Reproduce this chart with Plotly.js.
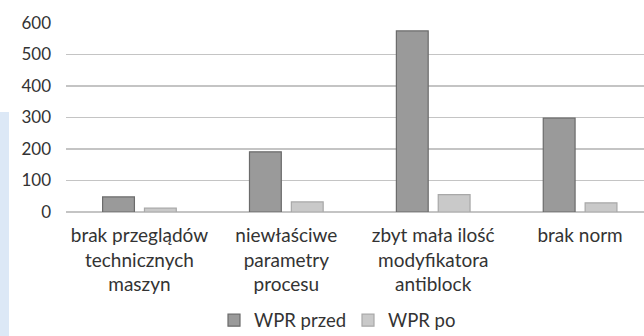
<!DOCTYPE html>
<html>
<head>
<meta charset="utf-8">
<script src="https://cdn.plot.ly/plotly-3.0.1.min.js"></script>
<style>
html,body{margin:0;padding:0;background:#fff;overflow:hidden;}
#chart{width:644px;height:336px;}
</style>
</head>
<body>
<div id="chart"></div>
<script>
const categories = [
  "brak przeglądów<br>technicznych<br>maszyn",
  "niewłaściwe<br>parametry<br>procesu",
  "zbyt mała ilość<br>modyfikatora<br>antiblock",
  "brak norm"
];
const seriesNames = ["WPR przed", "WPR po"];
const wprPrzed = [48, 191, 575, 298];
const wprPo = [12, 32, 55, 29];
const yTicks = [0, 100, 200, 300, 400, 500, 600];

const font = "Lato, 'Open Sans', sans-serif";

const traces = [
  {type:"bar", name:seriesNames[0], x:categories, y:wprPrzed,
   marker:{color:"#9a9a9a", line:{color:"#6b6b6b", width:1.2}}},
  {type:"bar", name:seriesNames[1], x:categories, y:wprPo,
   marker:{color:"#c9c9c9", line:{color:"#a8a8a8", width:1.2}}}
];

const layout = {
  width:644, height:336,
  margin:{l:66, r:0, t:23, b:124, autoexpand:false},
  paper_bgcolor:"#ffffff", plot_bgcolor:"#ffffff",
  font:{family:font, size:14, color:"#333333"},
  barmode:"group", bargap:0.43, bargroupgap:0.24,
  showlegend:true,
  legend:{orientation:"h", x:(214-66)/578, xanchor:"left", y:-0.575, yanchor:"middle",
          font:{size:18.5, color:"#333333"}, itemwidth:30, tracegroupgap:0,
          entrywidth:89, entrywidthmode:"pixels"},
  xaxis:{type:"category", range:[-0.5, 3.435], showgrid:false, zeroline:false, automargin:false,
         showline:false, ticks:"", ticklabelstandoff:10, tickfont:{size:19, color:"#333333"}, fixedrange:true},
  yaxis:{range:[0, 600], tickvals:yTicks, showgrid:true, gridcolor:"#c4c4c4", gridwidth:1.6, automargin:false,
         zeroline:true, zerolinecolor:"#c4c4c4", zerolinewidth:1.6, showline:false, ticks:"",
         ticklabelstandoff:14, tickfont:{size:17, color:"#333333"}},
  shapes:[{type:"rect", xref:"paper", yref:"paper", x0:-66/578, x1:-57/578, y0:-124/189, y1:(212-112)/189,
           fillcolor:"#dce8f6", line:{width:0}, layer:"below"}]
};

Plotly.newPlot("chart", traces, layout, {displayModeBar:false, staticPlot:true});
</script>
</body>
</html>
